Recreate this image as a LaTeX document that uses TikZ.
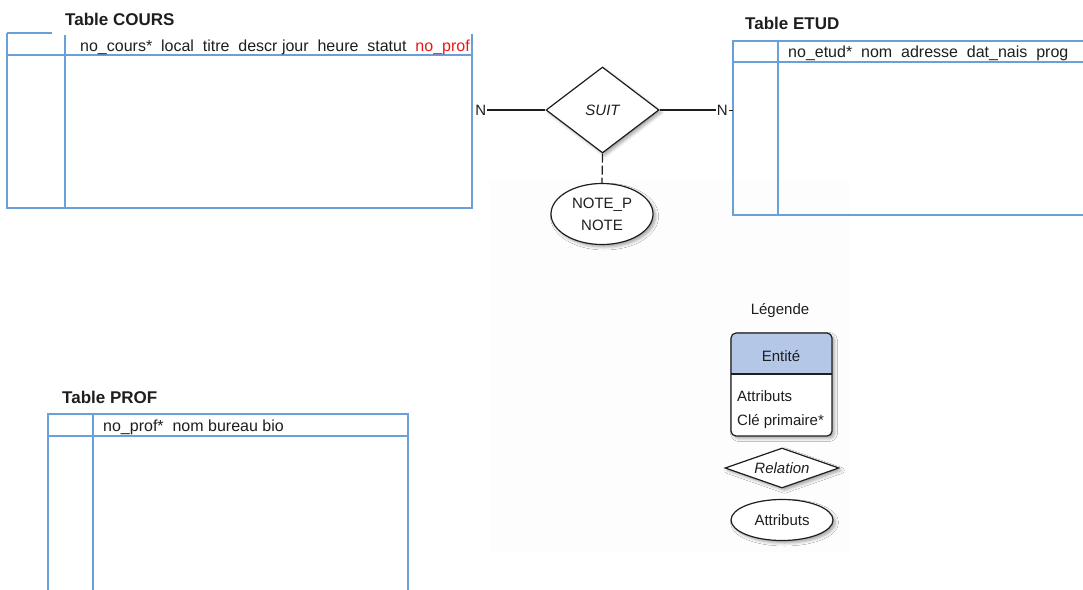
\documentclass[tikz,border=0pt]{standalone}
\usepackage{fontspec}
\setmainfont{Liberation Sans}
\usetikzlibrary{shapes.geometric,shadows.blur}

\definecolor{tblue}{RGB}{106,160,218}
\definecolor{fkred}{RGB}{240,20,20}
\definecolor{ink}{RGB}{30,30,30}
\definecolor{legblue}{RGB}{180,199,231}
\definecolor{haze}{RGB}{253,253,253}

\tikzset{
  tline/.style={draw=tblue, line width=1.3pt},
  ttitle/.style={anchor=base west, inner sep=0pt, font=\bfseries\fontsize{17}{20}\selectfont, text=ink},
  thead/.style={anchor=base west, inner sep=0pt, font=\fontsize{16}{19}\selectfont, text=ink},
  leg/.style={inner sep=0pt, font=\fontsize{15}{18}\selectfont, text=ink},
  erline/.style={draw=ink, line width=1.2pt},
  soft/.style={blur shadow={shadow xshift=2.5pt, shadow yshift=-2.5pt, shadow blur radius=3pt, shadow opacity=35}},
  relshape/.style={diamond, erline, fill=white, inner sep=0pt, soft, font=\itshape\fontsize{15}{18}\selectfont, text=ink},
  attshape/.style={ellipse, erline, fill=white, inner sep=0pt, soft, align=center, font=\fontsize{15}{22}\selectfont, text=ink},
  card/.style={inner sep=1pt, font=\fontsize{15}{18}\selectfont, text=ink},
  optline/.style={erline, dash pattern=on 9pt off 3pt}
}

\begin{document}
\begin{tikzpicture}[x=1pt,y=-1pt]
\useasboundingbox (0,0) rectangle (1083,589);

% faint backdrop behind the relation and the legend
\fill[haze] (490,180) rectangle (850,553);

% ---------- Table COURS ----------
\node[ttitle] (tcours) at (65,25) {Table COURS};
\draw[tline] (7,33) -- (52,33);
\draw[tline] (7,33) -- (7,208) -- (472,208) -- (472,34);
\draw[tline] (7,55) -- (472,55);
\draw[tline] (65,35) -- (65,208);
\node[thead] (hcours) at (80,51) {no\_cours*\ \ local\ \ titre\ \ descr jour\ \ heure\ \ statut\ \ \textcolor{fkred}{no\_prof}};

% ---------- Table ETUD ----------
\node[ttitle] (tetud) at (745,29) {Table ETUD};
\draw[tline] (1084,41) -- (733,41) -- (733,215) -- (1084,215);
\draw[tline] (733,62) -- (1084,62);
\draw[tline] (778,41) -- (778,215);
\node[thead] (hetud) at (788,57) {no\_etud*\ \ nom\ \ adresse\ \ dat\_nais\ \ prog};

% ---------- Table PROF ----------
\node[ttitle] (tprof) at (62,403) {Table PROF};
\draw[tline] (48,590) -- (48,414) -- (408,414) -- (408,590);
\draw[tline] (48,436) -- (408,436);
\draw[tline] (93,414) -- (93,590);
\node[thead] (hprof) at (103,431) {no\_prof*\ \ nom bureau bio};

% ---------- relation SUIT ----------
\node[relshape, aspect=1.31, minimum width=113pt, minimum height=86pt] (suit) at (602.5,110) {SUIT};
\node[card, anchor=east] (nl) at ([xshift=-58pt]suit.west) {N};
\node[card, anchor=west] (nr) at ([xshift=56pt]suit.east) {N};
\coordinate (etudedge) at (733,110);
\draw[erline] (nl.east) -- (suit.west);
\draw[erline] (suit.east) -- (nr.west);
\draw[draw=ink, line width=0.8pt] (nr.east) -- (etudedge);

\node[attshape, minimum width=102pt, minimum height=61pt] (note) at (602,214) {NOTE\_P\\NOTE};
\draw[optline] (suit.south) -- (note.north);

% ---------- Légende ----------
\node[leg] (legtitle) at (780,311) {Légende};

\node[draw=none, fill=white, rounded corners=5pt, minimum width=101pt, minimum height=103pt, inner sep=0pt, soft] (ent) at (781.5,384.5) {};
\begin{scope}
  \clip[rounded corners=5pt] (731,333) rectangle (832,436);
  \fill[legblue] (731,333) rectangle (832,374);
\end{scope}
\draw[erline, rounded corners=5pt] (731,333) rectangle (832,436);
\draw[erline] (731,374) -- (832,374);
\node[leg, anchor=base] (enttxt) at (781,361) {Entité};
\node[leg, anchor=base west] (att1) at (737,401) {Attributs};
\node[leg, anchor=base west] (att2) at (737,425) {Clé primaire*};

\node[relshape, aspect=2.85, minimum width=114pt, minimum height=40pt] (legrel) at (782,468) {Relation};
\node[attshape, minimum width=102pt, minimum height=41pt] (legatt) at (782,520) {Attributs};
\end{tikzpicture}
\end{document}
